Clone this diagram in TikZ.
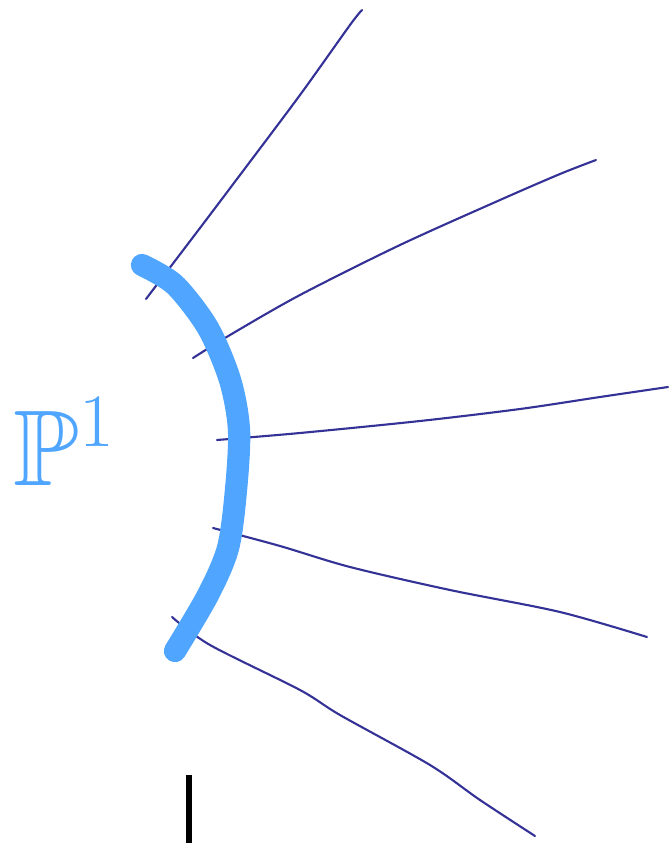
\documentclass[tikz,border=0pt]{standalone}
\usepackage{fix-cm}
\usepackage{amsmath, amssymb}
\usepackage{tikz}
\usetikzlibrary{positioning}
\usepackage{xcolor}
\definecolor{raynavy}{RGB}{52,50,150}
\definecolor{curveblue}{RGB}{80,166,255}

\begin{document}
\begin{tikzpicture}[
  x=0.03cm, y=-0.03cm,
  ray/.style={draw=raynavy, line width=1.8pt, line cap=round},
  curve/.style={draw=curveblue, line width=19pt, line cap=round},
  tick/.style={draw=black, line width=4.5pt},
  lbl/.style={text=curveblue, inner sep=0pt,
              font=\fontsize{92}{92}\selectfont}
]
\useasboundingbox (0,0) rectangle (671,843);

%--- Rays ---
\draw[ray] plot[smooth] coordinates {(146,299) (200,228) (240,175) (300,95) (350,25) (362,10)};
\draw[ray] plot[smooth] coordinates {(193,358) (230,335) (300,295) (400,245) (500,200) (560,174) (596,160)};
\draw[ray] plot[smooth] coordinates {(217,440) (300,433) (420,421) (520,409) (600,397) (668,387)};
\draw[ray] plot[smooth] coordinates {(213,528) (280,546) (350,567) (450,590) (560,612) (647,637)};
\draw[ray] plot[smooth] coordinates {(172,617) (210,645) (300,690) (340,715) (430,765) (480,800) (535,836)};

%--- Thick curve ---
\draw[curve] plot[smooth] coordinates {(142,265) (175,285) (208,328) (230,380) (239,430) (236,490) (228,548) (208,595) (175,651)};

%--- Tick ---
\coordinate (t1) at (189,775);
\coordinate (t2) at (189,843);
\draw[tick] (t1) -- (t2);

%--- Label ---
\node[lbl] (P) at (64,442) {$\mathbb{P}^1$};

\end{tikzpicture}
\end{document}
